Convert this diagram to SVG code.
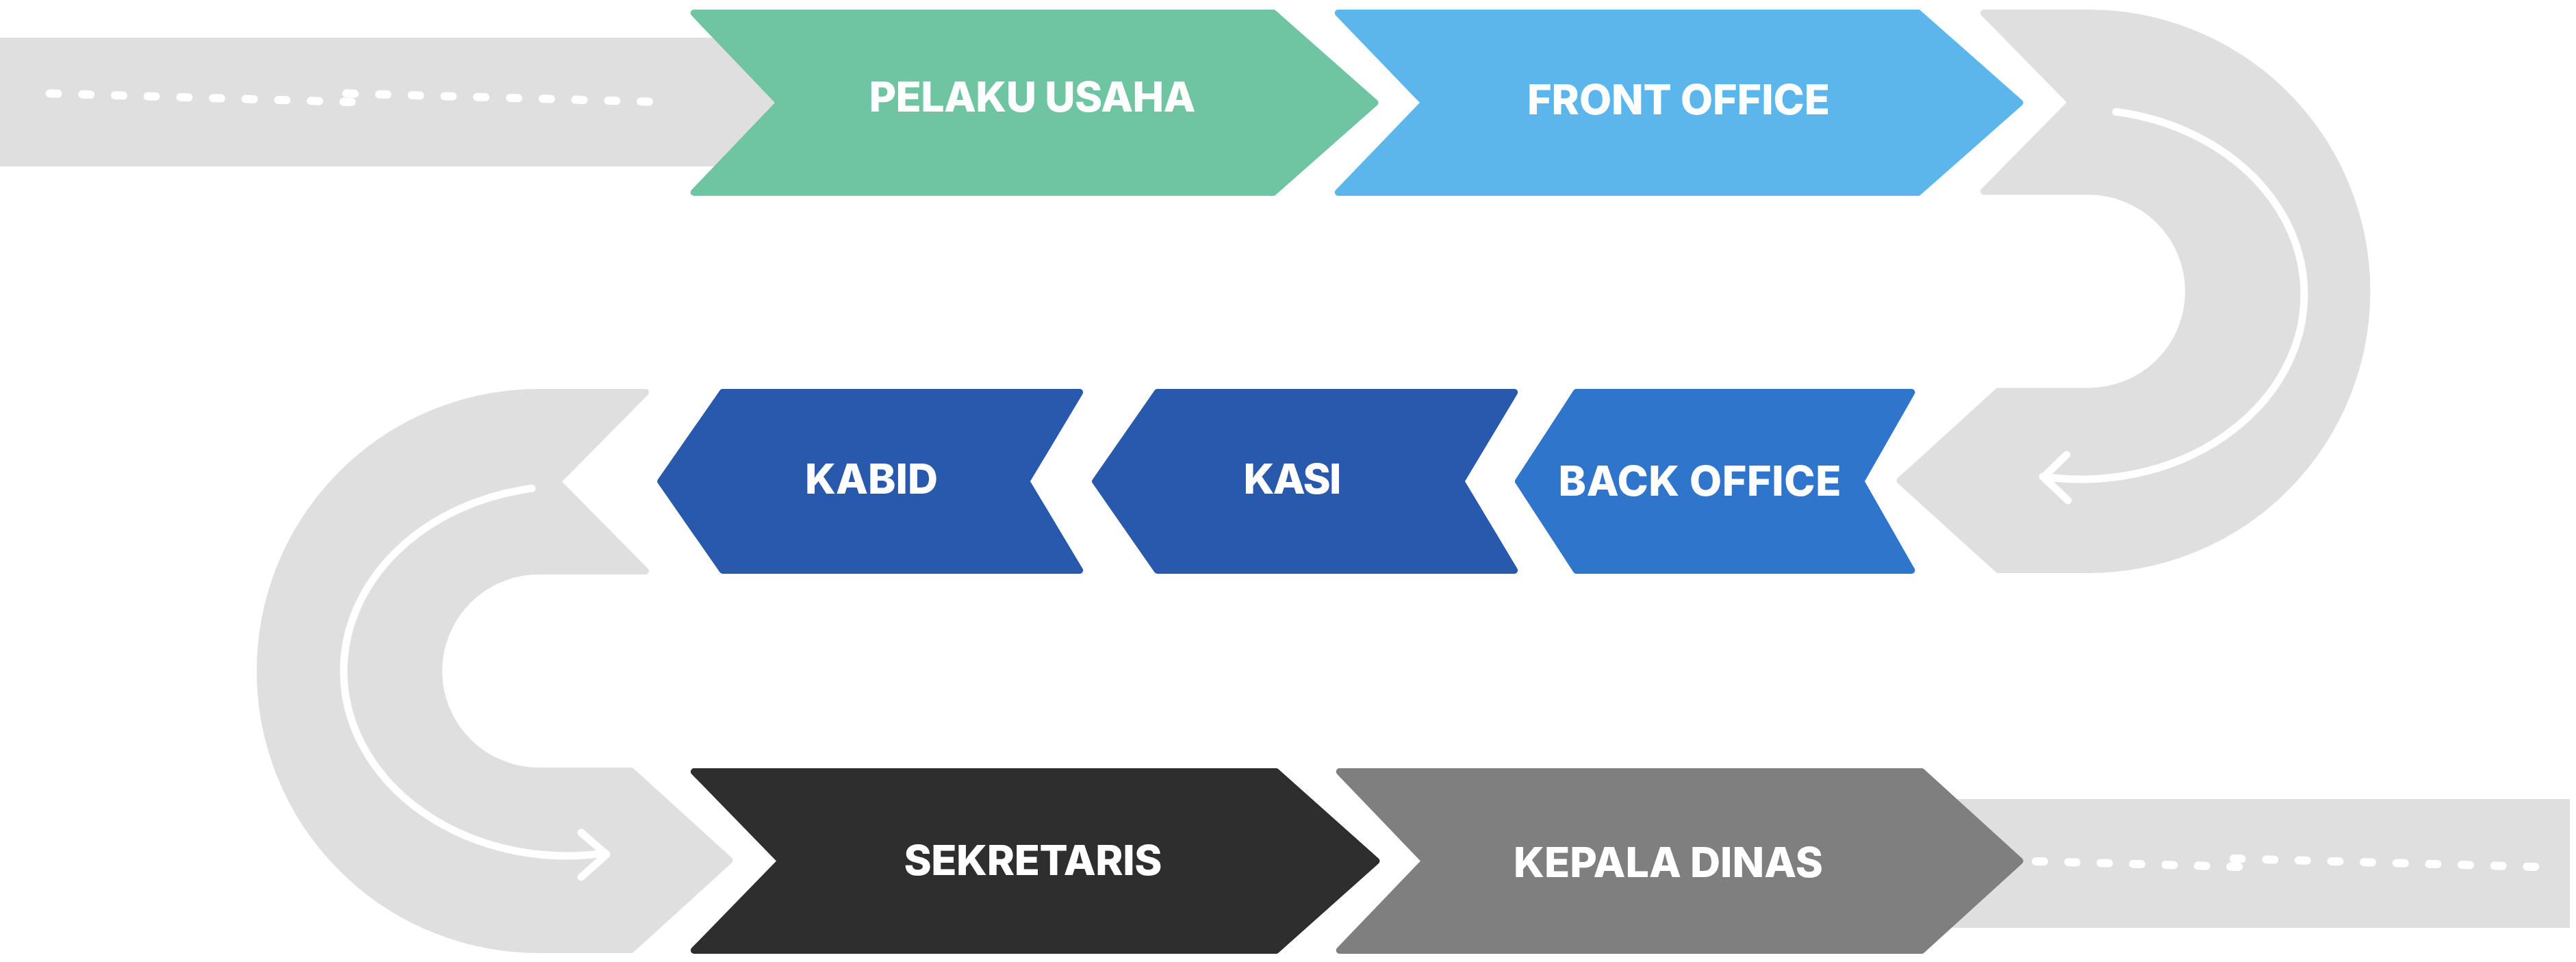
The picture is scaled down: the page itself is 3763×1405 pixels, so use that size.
<svg xmlns="http://www.w3.org/2000/svg" width="3763" height="1405" viewBox="0 0 3763 1405">
  <style>
    .road { fill: #DFDFDF; stroke: #DFDFDF; stroke-width: 10; stroke-linejoin: round; }
    .bar { fill: #DFDFDF; }
    .dots { fill: none; stroke: #FFFFFF; stroke-width: 12; stroke-linecap: round; }
    .arrow { fill: none; stroke: #FFFFFF; stroke-width: 11; stroke-linecap: round; stroke-linejoin: round; }
    .chev { stroke-width: 10; stroke-linejoin: round; }
    .green { fill: #6FC4A1; stroke: #6FC4A1; }
    .sky { fill: #5BB6EC; stroke: #5BB6EC; }
    .navy { fill: #2859AC; stroke: #2859AC; }
    .blue { fill: #3075CC; stroke: #3075CC; }
    .black { fill: #2E2E2E; stroke: #2E2E2E; }
    .gray { fill: #7F7F7F; stroke: #7F7F7F; }
    .label { font-family: Inter, "Open Sans", "Liberation Sans", sans-serif; font-weight: 800; font-size: 61px; fill: #FFFFFF; text-anchor: middle; }
  </style>

  <g id="connectors">
    <rect class="bar" x="0" y="55" width="1200" height="188"/>
    <rect class="bar" x="2700" y="1167" width="1054" height="188"/>
    <path class="road" d="M 2898,19 L 3051,19 A 406.5 406.5 0 0 1 3051,832 L 2919,832 L 2775.5,702 L 2919,571.5 L 3051,571.5 A 146 146 0 0 0 3051,279.5 L 2898,279.5 L 3026,149.5 Z"/>
    <path class="road" d="M 943,573 L 787,573 A 407 407 0 0 0 787,1387 L 922,1387 L 1065.6,1256.5 L 922,1126 L 787,1126 A 146 146 0 0 1 787,834 L 943,834 L 814,703.5 Z"/>
    <line class="dots" x1="72.6" y1="136.5" x2="514" y2="149" stroke-dasharray="12 35.7"/>
    <line class="dots" x1="506" y1="136.5" x2="948.2" y2="148.5" stroke-dasharray="12 35.8"/>
    <line class="dots" x1="2831.7" y1="1254" x2="3270.3" y2="1266" stroke-dasharray="12 35.4"/>
    <line class="dots" x1="3262.7" y1="1254" x2="3703.5" y2="1266" stroke-dasharray="12 35.64"/>
    <path class="arrow" d="M 3091,163.3 A 326 270 0 0 1 3366,430 A 326 270 0 0 1 2984,696"/>
    <path class="arrow" d="M 3019,664 L 2985,697 L 3021,731"/>
    <path class="arrow" d="M 777,713.3 A 326 270 0 0 0 502,980 A 326 270 0 0 0 884.6,1245.9"/>
    <path class="arrow" d="M 849,1216 L 886,1248 L 849,1281"/>
  </g>

  <g id="node-pelaku-usaha">
    <polygon class="chev green" points="1013.7,19 1860.1,19 2008.5,150 1860.1,281 1013.7,281 1138.9,150"/>
    <text class="label" x="1508" y="163" textLength="477">PELAKU USAHA</text>
  </g>
  <g id="node-front-office">
    <polygon class="chev sky" points="1954.8,19 2802.1,19 2950.5,150 2802.1,281 1954.8,281 2080.9,150"/>
    <text class="label" x="2452" y="167" textLength="442">FRONT OFFICE</text>
  </g>
  <g id="node-back-office">
    <polygon class="chev blue" points="2302.7,573 2792.4,573 2718.2,703 2792.4,833 2302.7,833 2218,703"/>
    <text class="label" x="2483" y="724" textLength="413">BACK OFFICE</text>
  </g>
  <g id="node-kasi">
    <polygon class="chev navy" points="1690.6,573 2212.2,573 2134.2,703 2212.2,833 1690.6,833 1600.1,703"/>
    <text class="label" x="1888" y="721" textLength="143">KASI</text>
  </g>
  <g id="node-kabid">
    <polygon class="chev navy" points="1055.6,573 1577.2,573 1499.2,703 1577.2,833 1055.6,833 965.1,703"/>
    <text class="label" x="1273" y="721" textLength="194">KABID</text>
  </g>
  <g id="node-sekretaris">
    <polygon class="chev black" points="1013.9,1127 1864.1,1127 2010.5,1257.5 1864.1,1388 1013.9,1388 1141,1257.5"/>
    <text class="label" x="1509" y="1278" textLength="377">SEKRETARIS</text>
  </g>
  <g id="node-kepala-dinas">
    <polygon class="chev gray" points="1956.7,1127 2807.1,1127 2950.6,1257.5 2807.1,1388 1956.7,1388 2081.9,1257.5"/>
    <text class="label" x="2437" y="1281" textLength="452">KEPALA DINAS</text>
  </g>
</svg>
